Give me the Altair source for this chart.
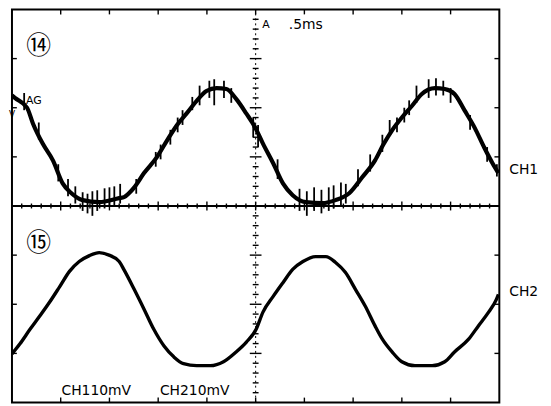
import altair as alt
import pandas as pd

# ---- Trace values (x in divisions, 0.5 ms/div; y in divisions) ----
ch1_x = [0.00, 0.06, 0.31, 0.43, 0.63, 0.84, 1.04, 1.22, 1.45, 1.79, 2.20, 2.30, 2.40, 2.51,
         2.71, 2.97, 3.18, 3.38, 3.58, 3.79, 3.99, 4.20, 4.40, 4.60, 4.81, 4.99, 5.15, 5.36,
         5.56, 5.76, 6.03, 6.37, 6.64, 6.92, 7.19, 7.45, 7.62, 7.80, 8.00, 8.21, 8.41, 8.68,
         8.88, 9.08, 9.29, 9.49, 9.69, 9.86, 9.98]
ch1_y = [2.25, 2.20, 2.00, 1.68, 1.27, 0.93, 0.46, 0.26, 0.12, 0.08, 0.16, 0.18, 0.26, 0.38,
         0.67, 0.99, 1.33, 1.64, 1.88, 2.14, 2.34, 2.40, 2.38, 2.18, 1.88, 1.60, 1.27, 0.87,
         0.46, 0.22, 0.08, 0.06, 0.12, 0.26, 0.59, 0.93, 1.25, 1.54, 1.80, 2.04, 2.28, 2.40,
         2.38, 2.28, 1.94, 1.60, 1.19, 0.87, 0.67]

ch2_x = [0.00, 0.16, 0.37, 0.57, 0.77, 0.98, 1.18, 1.38, 1.59, 1.79, 1.99, 2.20, 2.30, 2.51,
         2.71, 2.91, 3.12, 3.32, 3.52, 3.79, 4.07, 4.34, 4.60, 4.81, 5.01, 5.15, 5.36, 5.56,
         5.76, 5.97, 6.23, 6.44, 6.64, 6.84, 7.05, 7.25, 7.45, 7.60, 7.80, 8.00, 8.27, 8.62,
         8.88, 9.08, 9.37, 9.57, 9.78, 9.94, 9.98]
ch2_y = [-3.01, -2.81, -2.51, -2.24, -1.96, -1.64, -1.33, -1.13, -1.01, -0.95, -1.00, -1.13,
         -1.30, -1.70, -2.10, -2.51, -2.85, -3.07, -3.21, -3.25, -3.25, -3.17, -2.97, -2.77,
         -2.51, -2.16, -1.84, -1.56, -1.29, -1.13, -1.03, -1.03, -1.15, -1.35, -1.70, -2.04,
         -2.44, -2.71, -2.97, -3.17, -3.25, -3.25, -3.17, -2.97, -2.71, -2.44, -2.16, -1.90,
         -1.80]

# noise spikes on CH1 (x, low, high)
spike_x = [1.30, 1.45, 1.55, 1.65, 1.75, 1.90, 2.00, 2.10, 2.22, 2.55, 2.95, 3.25, 3.50, 3.70,
           3.85, 4.05, 4.15, 4.35, 4.50, 4.95, 5.05, 5.90, 6.05, 6.20, 6.35, 6.50, 6.60, 6.75,
           6.85, 7.35, 7.60, 7.90, 8.15, 8.30, 8.55, 8.70, 8.85, 9.00, 9.40, 9.75, 9.95,
           0.25, 0.55, 0.95, 1.15, 3.05, 3.40, 5.45, 7.10, 7.75, 8.05]
spike_lo = [0.05, -0.10, -0.15, -0.20, -0.10, -0.05, 0.00, 0.00, 0.05, 0.25, 0.80, 1.25, 1.65,
            1.95, 2.05, 2.20, 2.05, 2.20, 2.10, 1.40, 1.20, -0.10, -0.20, -0.10, -0.15, -0.10,
            -0.05, 0.00, 0.05, 0.70, 1.10, 1.50, 1.85, 2.10, 2.20, 2.25, 2.25, 2.10, 1.55, 0.90,
            0.60, 1.95, 1.35, 0.50, 0.20, 0.95, 1.50, 0.55, 0.40, 1.45, 1.70]
spike_hi = [0.40, 0.28, 0.25, 0.30, 0.32, 0.36, 0.38, 0.40, 0.45, 0.55, 1.10, 1.55, 1.95, 2.22,
            2.45, 2.55, 2.58, 2.55, 2.40, 1.80, 1.65, 0.35, 0.30, 0.38, 0.33, 0.38, 0.42, 0.48,
            0.45, 1.05, 1.45, 1.80, 2.15, 2.45, 2.58, 2.60, 2.55, 2.40, 1.85, 1.20, 0.85,
            2.30, 1.70, 0.85, 0.55, 1.25, 1.80, 0.95, 0.75, 1.75, 2.00]

ch1 = pd.DataFrame({"x": ch1_x, "y": ch1_y})
ch2 = pd.DataFrame({"x": ch2_x, "y": ch2_y})
spikes = pd.DataFrame({"x": spike_x, "y": spike_lo, "y2": spike_hi})

# ---- graticule ----
ticks = []
for i in range(1, 50):
    h = 0.09 if i % 5 == 0 else 0.05
    ticks.append({"x": i * 0.2, "x2": i * 0.2, "y": -h, "y2": h})
for i in range(-19, 20):
    if i == 0:
        continue
    h = 0.12 if i % 5 == 0 else 0.06
    ticks.append({"x": 5 - h, "x2": 5 + h, "y": i * 0.2, "y2": i * 0.2})
for k in range(1, 10):
    ticks.append({"x": k, "x2": k, "y": 4, "y2": 3.9})
    ticks.append({"x": k, "x2": k, "y": -4, "y2": -3.9})
for k in [-3, -2, -1, 1, 2, 3]:
    ticks.append({"x": 0, "x2": 0.1, "y": k, "y2": k})
    ticks.append({"x": 10, "x2": 9.9, "y": k, "y2": k})
ticks = pd.DataFrame(ticks)

xs = alt.Scale(domain=[0, 10], nice=False, zero=False)
ys = alt.Scale(domain=[-4, 4], nice=False, zero=False)
X = alt.X("x:Q", scale=xs, axis=None)
Y = alt.Y("y:Q", scale=ys, axis=None)

hline = alt.Chart(pd.DataFrame({"x": [0], "x2": [10], "y": [0]})).mark_rule(
    color="black", strokeWidth=2).encode(x=X, x2="x2:Q", y=Y)
vline = alt.Chart(pd.DataFrame({"x": [5], "y": [-4], "y2": [4]})).mark_rule(
    color="black", strokeWidth=1, strokeDash=[2, 3]).encode(x=X, y=Y, y2="y2:Q")
tick_layer = alt.Chart(ticks).mark_rule(color="black", strokeWidth=1.4).encode(
    x=X, x2="x2:Q", y=Y, y2="y2:Q")

spike_layer = alt.Chart(spikes).mark_rule(color="black", strokeWidth=1.8).encode(
    x=X, y=Y, y2="y2:Q")
line1 = alt.Chart(ch1).mark_line(color="black", strokeWidth=4.2, strokeJoin="round",
                                 interpolate="monotone", clip=True).encode(x=X, y=Y)
line2 = alt.Chart(ch2).mark_line(color="black", strokeWidth=3.4, strokeJoin="round",
                                 interpolate="monotone", clip=True).encode(x=X, y=Y)

# ---- annotations ----
lab_text = ["A", ".5ms", "CH1", "CH2", "CH110mV", "CH210mV", "AG"]
lab_x = [5.21, 6.03, 10.50, 10.50, 1.73, 3.75, 0.45]
lab_y = [3.68, 3.68, 0.73, -1.76, -3.76, -3.76, 2.14]
lab_size = [11, 14, 14, 14, 14, 14, 11]
labels = pd.DataFrame({"x": lab_x, "y": lab_y, "t": lab_text, "s": lab_size})
label_layer = alt.Chart(labels).mark_text(
    font="DejaVu Sans", color="black", align="center", baseline="middle").encode(
    x=X, y=Y, text="t:N", size=alt.Size("s:Q", scale=None, legend=None))

circ = pd.DataFrame({"x": [0.55, 0.55], "y": [3.25, -0.75], "t": ["⑭", "⑮"]})
circ_layer = alt.Chart(circ).mark_text(
    font="Noto Sans CJK JP", fontSize=25, color="black", align="center",
    baseline="middle").encode(x=X, y=Y, text="t:N")

marker = alt.Chart(pd.DataFrame({"x": [0.0], "y": [1.88], "t": ["V"]})).mark_text(
    font="DejaVu Sans", fontSize=9, color="black", align="center",
    baseline="middle").encode(x=X, y=Y, text="t:N")

chart = alt.layer(
    hline, vline, tick_layer, spike_layer, line1, line2, label_layer, circ_layer, marker
).properties(
    width=491, height=396,
    padding={"left": 4, "top": 0, "right": 44, "bottom": 0},
    autosize=alt.AutoSizeParams(type="none"),
    background="white",
).configure_view(stroke="black", strokeWidth=2)

chart.save("out.html", embed_options={"renderer": "svg", "actions": False})
